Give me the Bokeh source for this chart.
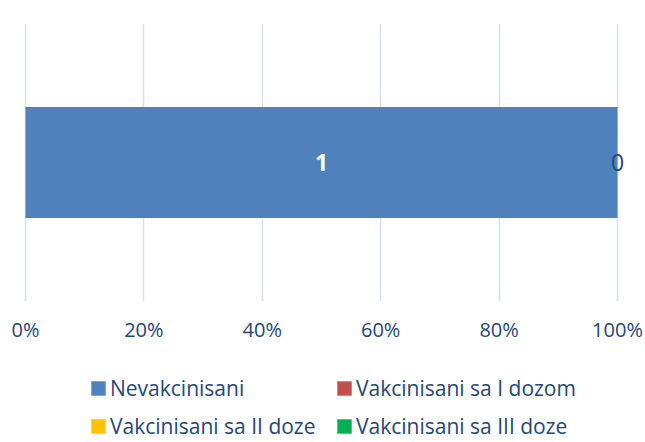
from bokeh.plotting import figure
from bokeh.layouts import column
from bokeh.models import (ColumnDataSource, FactorRange, Range1d, Legend, LegendItem,
                          FixedTicker, LabelSet)
from bokeh.core.properties import value
from bokeh.embed import file_html
from bokeh.resources import INLINE

# ---- data ----
categories = ["Pacijenti"]
series_names = ["Nevakcinisani", "Vakcinisani sa I dozom",
                "Vakcinisani sa II doze", "Vakcinisani sa III doze"]
nevakcinisani = [1]
vakc_i = [0]
vakc_ii = [0]
vakc_iii = [0]
series_values = [nevakcinisani, vakc_i, vakc_ii, vakc_iii]
colors = ["#4F81BD", "#C0504D", "#FFC000", "#00B050"]
x_ticks = [0, 0.2, 0.4, 0.6, 0.8, 1.0]
tick_labels = ["0%", "20%", "40%", "60%", "80%", "100%"]

TEXT = "#254778"
FONT = "Open Sans"

# layout (pixels)
W = 645
H_MAIN, H_LEG = 345, 97
FRAME_L, FRAME_R, FRAME_T, FRAME_B = 15, 630, 23, 305
ZERO_PX, FULL_PX = 25, 617
unit = FULL_PX - ZERO_PX
x_start = -(ZERO_PX - FRAME_L) / unit
x_end = 1 + (FRAME_R - FULL_PX) / unit

# 100% stacked shares
totals = [sum(v[i] for v in series_values) for i in range(len(categories))]
keys = ["s%d" % k for k in range(len(series_names))]
data = {"cat": categories}
for k, vals in zip(keys, series_values):
    data[k] = [v / t if t else 0 for v, t in zip(vals, totals)]
src = ColumnDataSource(data)

p = figure(width=W, height=H_MAIN, output_backend="svg", toolbar_location=None,
           y_range=FactorRange(factors=categories, range_padding=0),
           x_range=Range1d(x_start, x_end),
           min_border_left=FRAME_L, min_border_right=W - FRAME_R,
           min_border_top=FRAME_T, min_border_bottom=H_MAIN - FRAME_B)

p.hbar_stack(keys, y="cat", height=0.4, color=colors, line_color=None, source=src)

# data labels
lab_on = {"x": [], "y": [], "t": []}
lab_off = {"x": [], "y": [], "t": []}
seen = set()
for ci, cat in enumerate(categories):
    start = 0.0
    for k, vals in zip(keys, series_values):
        share = data[k][ci]
        mid = start + share / 2
        start += share
        if share > 0:
            lab_on["x"].append(mid); lab_on["y"].append(cat); lab_on["t"].append(str(vals[ci]))
        else:
            key = (round(mid, 6), cat)
            if key in seen:
                continue
            seen.add(key)
            lab_off["x"].append(mid); lab_off["y"].append(cat); lab_off["t"].append(str(vals[ci]))

p.add_layout(LabelSet(x="x", y="y", text="t", source=ColumnDataSource(lab_on),
                      text_align="center", text_baseline="middle",
                      text_color="white", text_font=value(FONT),
                      text_font_size="23px", text_font_style="bold"))
p.add_layout(LabelSet(x="x", y="y", text="t", source=ColumnDataSource(lab_off),
                      text_align="center", text_baseline="middle",
                      text_color=TEXT, text_font=value(FONT),
                      text_font_size="23px"))

# axes / grid
p.yaxis.visible = False
p.ygrid.visible = False
p.outline_line_color = None
p.xaxis.ticker = FixedTicker(ticks=x_ticks)
p.xaxis.major_label_overrides = dict(zip(x_ticks, tick_labels))
p.xaxis.axis_line_color = None
p.xaxis.major_tick_line_color = None
p.xaxis.minor_tick_line_color = None
p.xaxis.major_label_standoff = 8
p.xaxis.major_label_text_font = FONT
p.xaxis.major_label_text_font_size = "20px"
p.xaxis.major_label_text_color = TEXT
p.xgrid.grid_line_color = "#D6E0EF"
p.xgrid.grid_line_width = 1.5

# ---- legend strip (separate figure below the chart) ----
# (its frame is aligned with the chart's frame: left edge at FRAME_L)
p2 = figure(width=W, height=H_LEG, output_backend="svg", toolbar_location=None,
            y_range=FactorRange(factors=categories), x_range=Range1d(0, 1),
            x_axis_type=None, y_axis_type=None,
            min_border_left=FRAME_L, min_border_right=W - FRAME_R,
            min_border_top=0, min_border_bottom=0)
p2.grid.visible = False
p2.outline_line_color = None
nan = float("nan")
leg_renderers = [p2.hbar(y=[categories[0]], left=[nan], right=[nan], height=0.4,
                         color=c, line_color=None)
                 for c in colors]

LEG_X = 89
legend = Legend(items=[LegendItem(label=n, renderers=[r]) for n, r in zip(series_names, leg_renderers)],
                location=(LEG_X - FRAME_L, 0), orientation="horizontal", ncols=2,
                glyph_width=18, glyph_height=18, label_standoff=3,
                label_width=219, label_height=32, spacing=6, padding=0, margin=0,
                border_line_color=None, background_fill_alpha=0,
                label_text_font=FONT, label_text_font_size="21px",
                label_text_color=TEXT)
p2.add_layout(legend, "center")

layout = column(p, p2, spacing=0)
open("out.html", "w").write(file_html(layout, INLINE))
